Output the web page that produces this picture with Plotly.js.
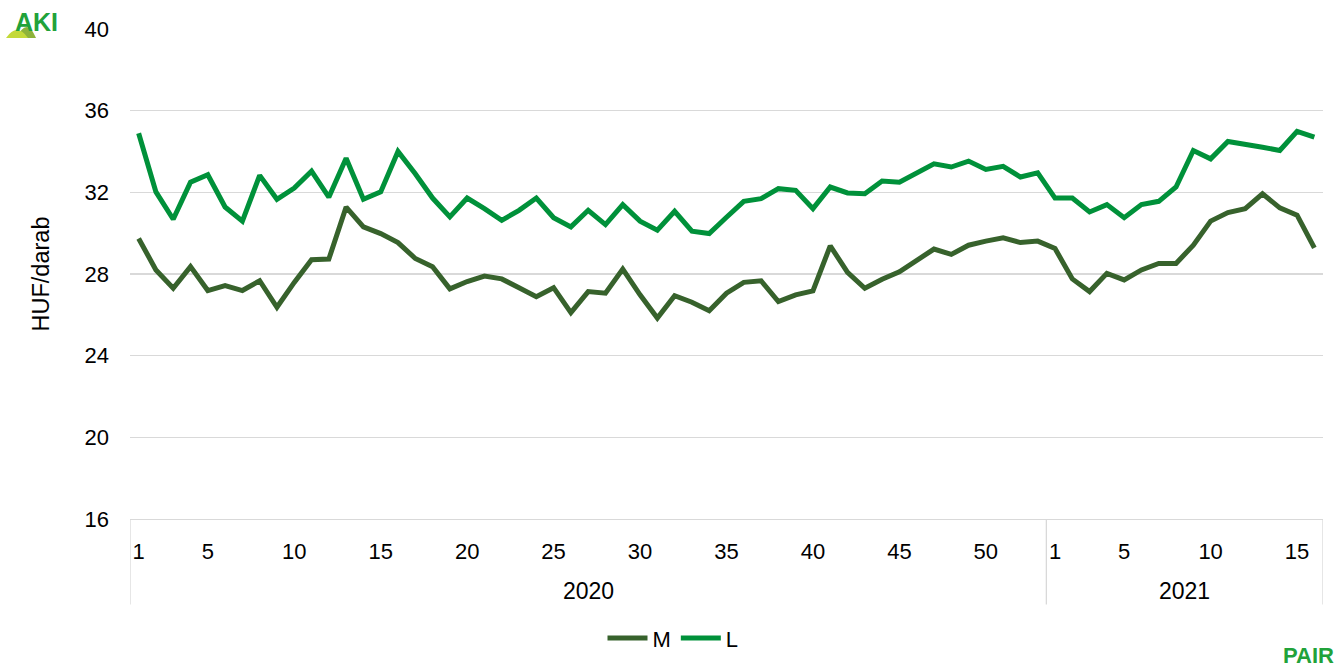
<!DOCTYPE html>
<html>
<head>
<meta charset="utf-8">
<script src="https://cdn.plot.ly/plotly-3.0.1.min.js"></script>
<style>
html,body{margin:0;padding:0;background:#fff;}
#chart{width:1338px;height:671px;}
</style>
</head>
<body>
<div id="chart"></div>
<script>
// ---- data ----
var years = ["2020", "2021"];
var weeks2020 = [1,2,3,4,5,6,7,8,9,10,11,12,13,14,15,16,17,18,19,20,21,22,23,24,25,26,27,28,29,30,31,32,33,34,35,36,37,38,39,40,41,42,43,44,45,46,47,48,49,50,51,52,53];
var weeks2021 = [1,2,3,4,5,6,7,8,9,10,11,12,13,14,15,16];
var shownWeekLabels = [1,5,10,15,20,25,30,35,40,45,50];

var seriesM = [29.74,28.20,27.30,28.36,27.19,27.43,27.19,27.67,26.37,27.59,
               28.70,28.73,31.28,30.31,29.98,29.54,28.76,28.36,27.27,27.63,
               27.90,27.76,27.33,26.89,27.33,26.11,27.14,27.06,28.24,26.98,
               25.84,26.94,26.62,26.20,27.06,27.59,27.67,26.65,26.98,27.17,
               29.38,28.08,27.30,27.74,28.11,28.65,29.22,28.96,29.41,29.61,
               29.77,29.54,29.61,
               29.25,27.76,27.14,28.03,27.71,28.20,28.52,28.52,29.41,30.59,
               31.01,31.20,31.93,31.24,30.88,29.28];
var seriesL = [34.89,32.02,30.68,32.50,32.86,31.28,30.59,32.83,31.66,32.21,
               33.04,31.76,33.67,31.66,32.02,34.00,32.91,31.72,30.80,31.72,
               31.20,30.63,31.12,31.72,30.76,30.31,31.12,30.42,31.40,30.59,
               30.15,31.07,30.10,29.98,30.78,31.56,31.69,32.18,32.10,31.20,
               32.26,31.97,31.93,32.55,32.50,32.96,33.40,33.24,33.53,33.12,
               33.27,32.75,32.96,
               31.72,31.72,31.04,31.40,30.76,31.40,31.56,32.26,34.05,33.64,
               34.49,34.37,34.21,34.05,34.99,34.70];
var yTitle = "HUF/darab";

// ---- build category positions ----
var xIdx = [], allLabels = [];
weeks2020.forEach(function(w){ allLabels.push({y:years[0], w:w}); });
weeks2021.forEach(function(w){ allLabels.push({y:years[1], w:w}); });
allLabels.forEach(function(_, i){ xIdx.push(i); });
var tickvals = [], ticktext = [];
allLabels.forEach(function(c, i){
  if (shownWeekLabels.indexOf(c.w) >= 0) { tickvals.push(i); ticktext.push(String(c.w)); }
});
var n2020 = weeks2020.length, nAll = allLabels.length;

var font = "Liberation Sans, Arial, sans-serif";

var traces = [
  {x: xIdx, y: seriesM, name: "M", type: "scatter", mode: "lines",
   line: {color: "#37622C", width: 5}},
  {x: xIdx, y: seriesL, name: "L", type: "scatter", mode: "lines",
   line: {color: "#00913A", width: 5}}
];

function px2x(px){ return (px - 130) / 1193; }
function px2y(py){ return (522 - py) / 493; }
function dome(x0, x1, yb, yt){
  var xc = (x0 + x1) / 2, ctrl = yt - (yb - yt);
  return "M" + px2x(x0) + "," + px2y(yb) + " Q" + px2x(xc) + "," + px2y(ctrl) + " " + px2x(x1) + "," + px2y(yb) + " Z";
}

var layout = {
  width: 1338, height: 671,
  margin: {l: 130, r: 15, t: 29, b: 149},
  paper_bgcolor: "#fff", plot_bgcolor: "#fff",
  font: {family: font, size: 22, color: "#000"},
  showlegend: true,
  legend: {orientation: "h", x: px2x(673), xanchor: "center", y: px2y(642), yanchor: "middle",
           font: {family: font, size: 22, color: "#000"}, itemwidth: 40, tracegroupgap: 0},
  xaxis: {
    range: [-0.5, nAll - 0.5], tickmode: "array", tickvals: tickvals, ticktext: ticktext,
    showgrid: false, zeroline: false, showline: true, linecolor: "#D9D9D9", linewidth: 1.3,
    ticks: "", ticklabelstandoff: 12, tickfont: {family: font, size: 22, color: "#000"}
  },
  yaxis: {
    range: [16, 40], dtick: 4, tick0: 16, showgrid: true, gridcolor: "#D9D9D9", gridwidth: 1.3,
    zeroline: false, showline: false, ticks: "", ticklabelstandoff: 20,
    tickfont: {family: font, size: 22, color: "#000"},
    title: {text: yTitle, font: {family: font, size: 23.5, color: "#000"}, standoff: 28}
  },
  shapes: [
    {type: "line", xref: "x", yref: "paper", x0: -0.5, x1: -0.5, y0: 0, y1: px2y(608), line: {color: "#D9D9D9", width: 1.3}},
    {type: "line", xref: "x", yref: "paper", x0: n2020 - 0.5, x1: n2020 - 0.5, y0: 0, y1: px2y(608), line: {color: "#D9D9D9", width: 1.3}},
    {type: "line", xref: "x", yref: "paper", x0: nAll - 0.5, x1: nAll - 0.5, y0: 0, y1: px2y(608), line: {color: "#D9D9D9", width: 1.3}},
    {type: "path", xref: "paper", yref: "paper", path: dome(17, 36, 38, 27), fillcolor: "#8DB33A", line: {width: 0}},
    {type: "path", xref: "paper", yref: "paper", path: dome(6, 28, 38, 30), fillcolor: "#C3D939", line: {width: 0}}
  ],
  annotations: [
    {xref: "paper", yref: "paper", x: (n2020/2) / nAll, y: px2y(594), text: years[0], showarrow: false,
     xanchor: "center", yanchor: "middle", font: {family: font, size: 23, color: "#000"}},
    {xref: "paper", yref: "paper", x: (n2020 + (nAll - n2020)/2) / nAll, y: px2y(594), text: years[1], showarrow: false,
     xanchor: "center", yanchor: "middle", font: {family: font, size: 23, color: "#000"}},
    {xref: "paper", yref: "paper", x: px2x(36), y: px2y(22), text: "<b>AKI</b>", showarrow: false,
     xanchor: "center", yanchor: "middle", font: {family: font, size: 25, color: "#21A23A"}},
    {xref: "paper", yref: "paper", x: px2x(1308), y: px2y(659), text: "<b>PAIR</b>", showarrow: false,
     xanchor: "center", yanchor: "middle", font: {family: font, size: 22, color: "#21A23A"}}
  ]
};

Plotly.newPlot("chart", traces, layout, {displayModeBar: false, staticPlot: true});
</script>
</body>
</html>
